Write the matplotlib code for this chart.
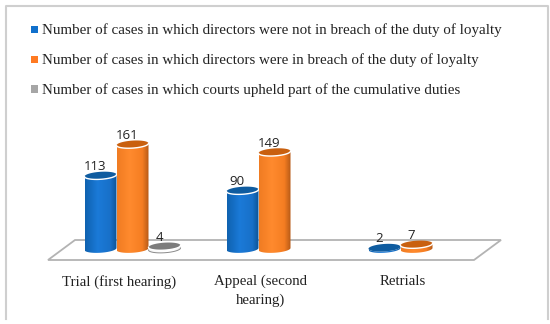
import numpy as np
import matplotlib
matplotlib.use("Agg")
import matplotlib.pyplot as plt
from matplotlib.patches import Polygon, Rectangle, PathPatch
from matplotlib.lines import Line2D
from matplotlib.path import Path
from matplotlib.colors import LinearSegmentedColormap

categories = ["Trial (first hearing)", "Appeal (second\nhearing)", "Retrials"]
series_names = [
    "Number of cases in which directors were not in breach of the duty of loyalty",
    "Number of cases in which directors were in breach of the duty of loyalty",
    "Number of cases in which courts upheld part of the cumulative duties",
]
not_in_breach = [113, 90, 2]
in_breach = [161, 149, 7]
part_upheld = [4, None, None]
all_series = [not_in_breach, in_breach, part_upheld]

legend_colors = ["#1070CC", "#FF7A22", "#A6A6A6"]
side_ramps = [["#0F62B0", "#1B7AD8", "#1870C8", "#0C5496"],
              ["#F07C22", "#FF8A2E", "#F57D22", "#B65A16"],
              ["#F4F4F4", "#FFFFFF", "#FFFFFF", "#E8E8E8"]]
cap_colors = ["#0F5CA0", "#C9600F", "#7C7C7C"]

W, H = 550, 324
PX_CAT = 142.0
PX_VAL = 0.65
fig = plt.figure(figsize=(W / 100, H / 100), dpi=100, facecolor="white")
left, right = 48, 474
base, top = 249, 20
ax = fig.add_axes([left / W, 1 - base / H, (right - left) / W, (base - top) / H])
ax.set_xlim(-0.5, 2.5)
ax.set_ylim(0, (base - top) / PX_VAL)
ax.axis("off")
XL, YL = ax.get_xlim(), ax.get_ylim()

# frame: three sides, open at the bottom
fx = [5.5 / W, 5.5 / W, 547.5 / W, 547.5 / W]
fy = [1 - 319 / H, 1 - 5.5 / H, 1 - 5.5 / H, 1 - 319 / H]
fig.add_artist(Line2D(fx, fy, transform=fig.transFigure, color="#CFCFCF", lw=1.5))

dy = lambda p: p / PX_VAL
dx = lambda p: p / PX_CAT

floor = Polygon([(-0.5, dy(-11)), (2.5, dy(-11)), (2.5 + dx(27), dy(9)), (-0.5 + dx(27), dy(9))],
                closed=True, fc="white", ec="#B3B3B3", lw=1.3, zorder=1, clip_on=False)
ax.add_patch(floor)

BAR_W = 32 / PX_CAT
OFF = [-18.5 / PX_CAT, 13.5 / PX_CAT, 45.5 / PX_CAT]
CAP_H = 7.5 / PX_VAL
SHEAR = dy(1.0)
LABEL_SHIFT = dx(-5.5)


def ell(cx, v, t):
    return cx + BAR_W / 2 * np.cos(t), v + CAP_H / 2 * np.sin(t) + SHEAR * np.cos(t)


def cylinder(cx, value, i, z):
    x0, x1 = cx - BAR_W / 2, cx + BAR_W / 2
    t = np.linspace(np.pi, 2 * np.pi, 40)
    bx, by = ell(cx, 0, t)
    tx, ty = ell(cx, value, t[::-1])
    verts = list(zip(bx, by)) + list(zip(tx, ty))
    verts.append(verts[0])
    patch = PathPatch(Path(verts), fc="none", ec="none", zorder=z, clip_on=False)
    ax.add_patch(patch)
    cmap = LinearSegmentedColormap.from_list("c", list(zip([0, 0.4, 0.8, 1], side_ramps[i])))
    im = ax.imshow(np.linspace(0, 1, 64)[None, :], cmap=cmap, aspect="auto", zorder=z,
                   extent=(x0, x1, -2 * CAP_H, value + CAP_H))
    im.set_clip_box(fig.bbox)
    im.set_clip_path(patch)
    tt = np.linspace(0, 2 * np.pi, 80)
    cx_, cy_ = ell(cx, value, tt)
    ax.add_patch(Polygon(np.c_[cx_, cy_], closed=True, fc=cap_colors[i], ec="none", zorder=z + 0.1,
                         clip_on=False))
    if value > 2:
        rx, ry = ell(cx, value, t)
        ax.plot(rx, ry, color="white", lw=1.0, zorder=z + 0.2, clip_on=False)
    if i == 2:
        ax.plot(bx, by, color="#8A8A8A", lw=0.7, zorder=z + 0.2, clip_on=False)


for c in range(len(categories)):
    for i, s in enumerate(all_series):
        v = s[c]
        if v is None:
            continue
        cx = c + OFF[i]
        cylinder(cx, v, i, 3 + i)
        ax.text(cx + LABEL_SHIFT, v + dy(2.5), str(v), ha="center", va="bottom", fontsize=9.5,
                color="#222222", family="Open Sans", zorder=10, clip_on=False)

ax.set_xlim(XL)
ax.set_ylim(YL)

for c, lab in enumerate(categories):
    ax.text(c, dy(-26), lab, ha="center", va="top", fontsize=10.7, family="Liberation Serif",
            color="#222222", linespacing=1.45, clip_on=False)

leg_y = [30, 60, 90]
for name, col, y in zip(series_names, legend_colors, leg_y):
    fig.add_artist(Rectangle((30.5 / W, 1 - (y + 3) / H), 7.5 / W, 7.5 / H,
                             transform=fig.transFigure, fc=col, ec="none"))
    fig.text(41.5 / W, 1 - y / H, name, ha="left", va="center", fontsize=10.85,
             family="Liberation Serif", color="#222222")

fig.savefig("out.png", dpi=100)
